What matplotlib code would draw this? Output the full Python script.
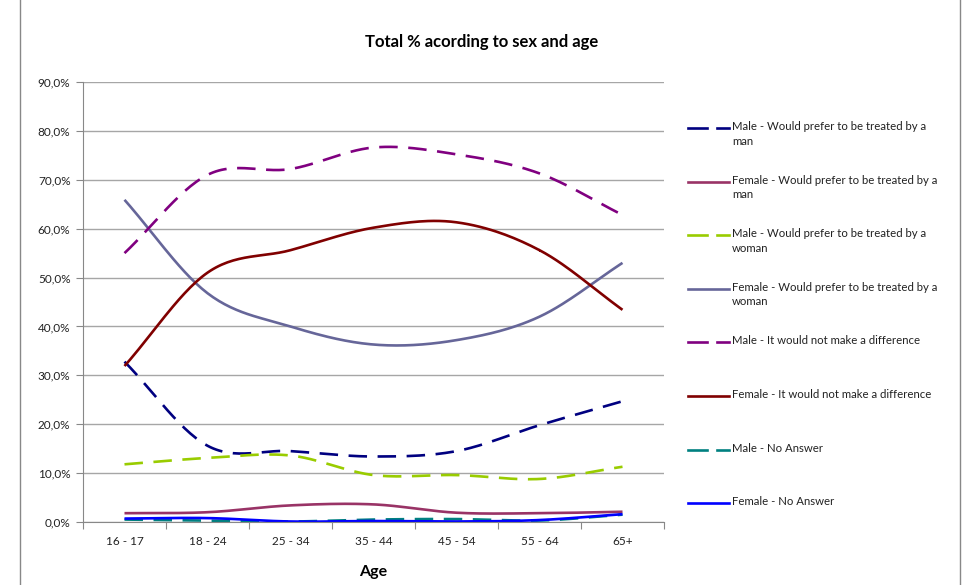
import numpy as np
import matplotlib
matplotlib.use("Agg")
import matplotlib.pyplot as plt
from matplotlib.lines import Line2D
from matplotlib.ticker import FuncFormatter, FixedLocator

plt.rcParams['font.family'] = ['Lato', 'DejaVu Sans']

ages = ["16 - 17", "18 - 24", "25 - 34", "35 - 44", "45 - 54", "55 - 64", "65+"]

male_pref_man = [32.8, 15.6, 14.5, 13.4, 14.5, 19.8, 24.7]
female_pref_man = [1.8, 2.0, 3.4, 3.6, 1.9, 1.8, 2.1]
male_pref_woman = [11.8, 13.1, 13.6, 9.6, 9.6, 8.8, 11.3]
female_pref_woman = [65.9, 46.8, 40.0, 36.3, 37.2, 42.0, 53.0]
male_no_diff = [55.0, 71.0, 72.2, 76.6, 75.2, 71.3, 62.8]
female_no_diff = [31.9, 51.0, 55.6, 60.2, 61.3, 55.6, 43.4]
male_no_answer = [0.5, 0.3, 0.1, 0.5, 0.6, 0.3, 1.5]
female_no_answer = [0.7, 0.8, 0.1, 0.2, 0.1, 0.4, 1.6]

series = [
    ("Male - Would prefer to be treated by a\nman", male_pref_man, "#000080", True),
    ("Female - Would prefer to be treated by a\nman", female_pref_man, "#993366", False),
    ("Male - Would prefer to be treated by a\nwoman", male_pref_woman, "#99CC00", True),
    ("Female - Would prefer to be treated by a\nwoman", female_pref_woman, "#666699", False),
    ("Male - It would not make a difference", male_no_diff, "#800080", True),
    ("Female - It would not make a difference", female_no_diff, "#800000", False),
    ("Male - No Answer", male_no_answer, "#008080", True),
    ("Female - No Answer", female_no_answer, "#0000FF", False),
]


def smooth(y, n=30):
    # catmull-rom style smoothing like excel's smoothed lines
    y = np.asarray(y, float)
    x = np.arange(len(y), dtype=float)
    px = np.concatenate([[2 * x[0] - x[1]], x, [2 * x[-1] - x[-2]]])
    py = np.concatenate([[2 * y[0] - y[1]], y, [2 * y[-1] - y[-2]]])
    xs, ys = [], []
    t = np.linspace(0, 1, n)
    for i in range(1, len(px) - 2):
        for p, out in ((px, xs), (py, ys)):
            p0, p1, p2, p3 = p[i - 1], p[i], p[i + 1], p[i + 2]
            out.append(0.5 * ((2 * p1) + (-p0 + p2) * t
                              + (2 * p0 - 5 * p1 + 4 * p2 - p3) * t ** 2
                              + (-p0 + 3 * p1 - 3 * p2 + p3) * t ** 3))
    return np.concatenate(xs), np.concatenate(ys)


W, H = 967, 585
fig = plt.figure(figsize=(W / 100, H / 100), dpi=100)
ax = fig.add_axes([83 / W, 1 - 522 / H, (664 - 83) / W, (522 - 82) / H])

for label, vals, color, dashed in series:
    sx, sy = smooth(vals)
    ln, = ax.plot(sx, sy, color=color, lw=1.9, solid_capstyle='butt')
    if dashed:
        ln.set_dashes((7, 4))

ax.set_xlim(-0.5, len(ages) - 0.5)
ax.set_ylim(0, 90)
ax.set_yticks(np.arange(0, 91, 10))
ax.yaxis.set_major_formatter(FuncFormatter(lambda v, p: f"{v:.1f}%".replace(".", ",")))
ax.xaxis.set_major_locator(FixedLocator(np.arange(-0.5, len(ages), 1)))
ax.set_xticklabels([])
ax.set_xticks(np.arange(len(ages)), minor=True)
ax.set_xticklabels(ages, minor=True)
ax.tick_params(axis='x', which='minor', length=0, pad=10, labelsize=8.5, colors='#222222')
ax.tick_params(axis='x', which='major', length=5, color='#888888')
ax.tick_params(axis='y', length=5, color='#888888', labelsize=8.5, labelcolor='#222222', pad=4)

ax.grid(axis='y', color='#a6a6a6', lw=1)
ax.set_axisbelow(True)
for s in ('top', 'right'):
    ax.spines[s].set_visible(False)
for s in ('left', 'bottom'):
    ax.spines[s].set_color('#888888')

fig.text(482 / W, 1 - 42 / H, "Total % acording to sex and age",
         ha='center', va='center', fontsize=12, fontweight='bold')
fig.text(0.5 * (83 + 664) / W, 1 - 572 / H, "Age",
         ha='center', va='center', fontsize=11.5, fontweight='bold')

# legend
y0, dy = 128, 53.6
for i, (label, vals, color, dashed) in enumerate(series):
    yy = 1 - (y0 + i * dy) / H
    if dashed:
        fig.add_artist(Line2D([688 / W, 707 / W], [yy, yy], color=color, lw=1.9))
        fig.add_artist(Line2D([717 / W, 729 / W], [yy, yy], color=color, lw=1.9))
    else:
        fig.add_artist(Line2D([688 / W, 729 / W], [yy, yy], color=color, lw=1.9))
    fig.text(732 / W, yy + 7 / H, label, ha='left', va='top', fontsize=8.2,
             linespacing=1.4, color='#222222')

# chart area border
fig.add_artist(Line2D([20 / W, 20 / W], [0, 1], color='#888888', lw=1))
fig.add_artist(Line2D([960 / W, 960 / W], [0, 1], color='#888888', lw=1))

fig.savefig("out.png", dpi=100)
